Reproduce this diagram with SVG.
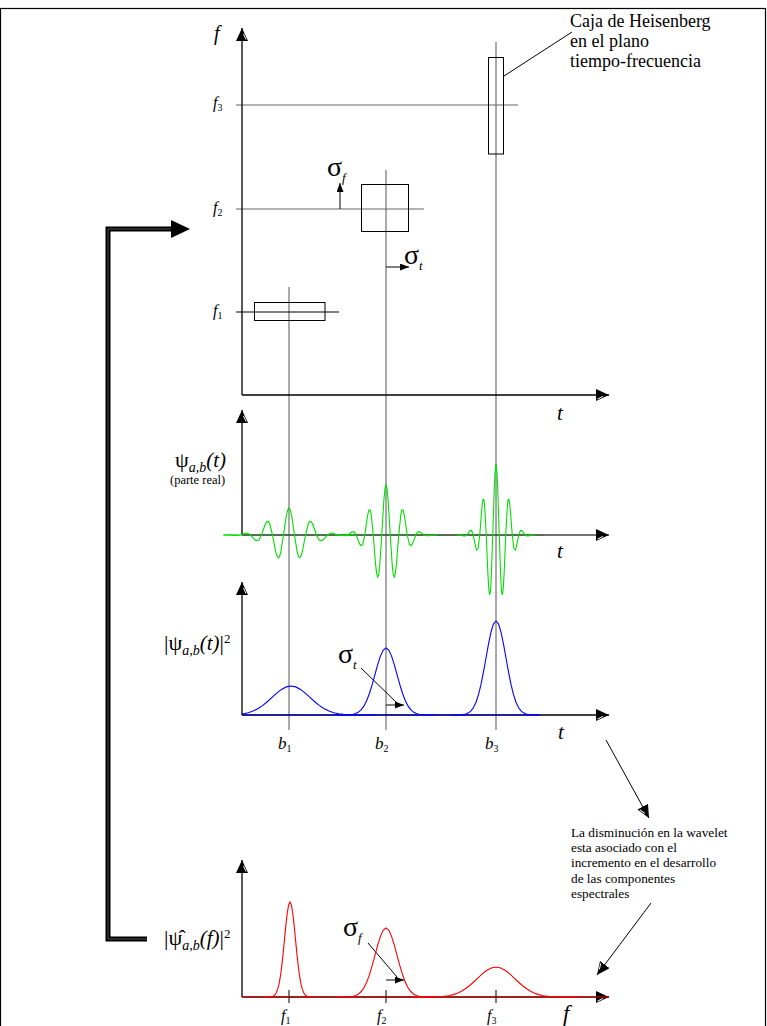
<svg xmlns="http://www.w3.org/2000/svg" xmlns:xlink="http://www.w3.org/1999/xlink" width="767" height="1026" viewBox="0 0 767 1026">
<style>
text{font-family:"Liberation Serif","Times New Roman",serif;fill:#000}
.it{font-style:italic}
.ax{stroke:#000;stroke-width:1.3;fill:none}
.gl{stroke:#666;stroke-width:1.2;fill:none}
.vl{stroke:#555;stroke-width:1;fill:none}
.bx{fill:none;stroke:#000;stroke-width:1}
.ld{stroke:#000;stroke-width:1;fill:none}
.grn{stroke:#00e000;stroke-width:1.1;fill:none}
.blu{stroke:#0000ff;stroke-width:1.1;fill:none}
.red{stroke:#ff0000;stroke-width:1.1;fill:none}
</style>
<defs>
<marker id="ah" markerUnits="userSpaceOnUse" markerWidth="14" markerHeight="12" refX="13" refY="6" orient="auto"><path d="M0,0 L13,6 L0,12 z" fill="#000"/><path d="M1.5,10 L7,7.5" stroke="#fff" stroke-width="1"/></marker>
<marker id="as" markerUnits="userSpaceOnUse" markerWidth="10" markerHeight="8" refX="9" refY="3.5" orient="auto"><path d="M0,0 L9,3.5 L0,7 z" fill="#000"/></marker>
<path id="G" vector-effect="non-scaling-stroke" d="M-4.5,0 L-4,-0.0003 L-3.5,-0.0022 L-3,-0.0111 L-2.75,-0.0228 L-2.5,-0.0439 L-2.25,-0.0796 L-2,-0.1353 L-1.75,-0.2163 L-1.5,-0.3247 L-1.25,-0.4578 L-1,-0.6065 L-0.75,-0.7548 L-0.5,-0.8825 L-0.25,-0.9692 L0,-1 L0.25,-0.9692 L0.5,-0.8825 L0.75,-0.7548 L1,-0.6065 L1.25,-0.4578 L1.5,-0.3247 L1.75,-0.2163 L2,-0.1353 L2.25,-0.0796 L2.5,-0.0439 L2.75,-0.0228 L3,-0.0111 L3.5,-0.0022 L4,-0.0003 L4.5,0"/>
<path id="W" vector-effect="non-scaling-stroke" d="M-3,-0.002 L-2.875,-0.0027 L-2.75,0 L-2.625,0.006 L-2.5,0.0132 L-2.375,0.0143 L-2.25,0 L-2.125,-0.031 L-2,-0.0628 L-1.875,-0.0621 L-1.75,0 L-1.625,0.1137 L-1.5,0.2108 L-1.375,0.1911 L-1.25,0 L-1.125,-0.2945 L-1.0625,-0.423 L-1,-0.5006 L-0.9375,-0.5029 L-0.875,-0.4163 L-0.75,0 L-0.625,0.5397 L-0.5625,0.7422 L-0.5,0.8411 L-0.4375,0.8092 L-0.375,0.6416 L-0.25,0 L-0.125,-0.6995 L-0.0625,-0.9214 L0,-1 L0.0625,-0.9214 L0.125,-0.6995 L0.25,0 L0.375,0.6416 L0.4375,0.8092 L0.5,0.8411 L0.5625,0.7422 L0.625,0.5397 L0.75,0 L0.875,-0.4163 L0.9375,-0.5029 L1,-0.5006 L1.0625,-0.423 L1.125,-0.2945 L1.25,0 L1.375,0.1911 L1.5,0.2108 L1.625,0.1137 L1.75,0 L1.875,-0.0621 L2,-0.0628 L2.125,-0.031 L2.25,0 L2.375,0.0143 L2.5,0.0132 L2.625,0.006 L2.75,0 L2.875,-0.0027 L3,-0.002"/>
<clipPath id="cb"><rect x="242" y="500" width="400" height="220"/></clipPath>
</defs>

<rect x="0.5" y="8.5" width="765" height="1030" fill="none" stroke="#000" stroke-width="1.2"/>

<g id="connectors">
  <line class="vl" x1="289" y1="287" x2="289" y2="730"/>
  <line class="vl" x1="386" y1="170" x2="386" y2="730"/>
  <line class="vl" x1="496" y1="42" x2="496" y2="730"/>
  <line class="gl" x1="236" y1="105" x2="518" y2="105"/>
  <line class="gl" x1="236" y1="209" x2="424" y2="209"/>
  <line class="ax" x1="236" y1="312" x2="339" y2="312" style="stroke-width:1.1"/>
  <line class="ld" x1="340" y1="209" x2="340" y2="183" marker-end="url(#as)"/>
  <line class="ld" x1="386" y1="267" x2="409" y2="267" marker-end="url(#as)"/>
  <line class="ld" x1="504" y1="76" x2="572" y2="32"/>
  <line class="ld" x1="361" y1="668" x2="397" y2="703"/>
  <line class="ld" x1="386" y1="705" x2="404" y2="705" marker-end="url(#as)"/>
  <line class="ld" x1="368" y1="943" x2="397" y2="977"/>
  <line class="ld" x1="386" y1="980" x2="404" y2="980" marker-end="url(#as)"/>
  <line class="ld" x1="606" y1="740" x2="649" y2="818" marker-end="url(#ah)"/>
  <line class="ld" x1="651" y1="903" x2="597" y2="975" marker-end="url(#ah)"/>
  <path d="M147,939 L108,939 L108,229 L175,229" fill="none" stroke="#000" stroke-width="5"/>
  <path d="M147,939 L108,939 L108,229 L175,229" fill="none" stroke="#666" stroke-width="0.8"/>
  <polygon points="171,220 190,229 171,238" fill="#000"/>
</g>

<g id="plot-tf">
  <line class="ax" x1="242" y1="395" x2="242" y2="28" marker-end="url(#ah)"/>
  <line class="ax" x1="242" y1="395" x2="609" y2="395" marker-end="url(#ah)"/>
  <text x="214" y="40" class="it" font-size="20">f</text>
  <text x="213" y="108" class="it" font-size="16">f<tspan font-size="10" font-style="normal" dy="3">3</tspan></text>
  <text x="213" y="213" class="it" font-size="16">f<tspan font-size="10" font-style="normal" dy="3">2</tspan></text>
  <text x="213" y="316" class="it" font-size="16">f<tspan font-size="10" font-style="normal" dy="3">1</tspan></text>
  <text x="557" y="420" class="it" font-size="21">t</text>
  <text x="327" y="176" font-size="28">σ<tspan class="it" font-size="13" dy="6">f</tspan></text>
  <text x="404" y="264" font-size="28">σ<tspan class="it" font-size="13" dy="6">t</tspan></text>
</g>
<g id="box-1"><rect class="bx" x="254.5" y="302.5" width="70.5" height="18"/></g>
<g id="box-2"><rect class="bx" x="361.5" y="184.5" width="47" height="47"/></g>
<g id="box-3"><rect class="bx" x="488.5" y="57.5" width="15" height="96.5"/></g>
<g id="heisenberg-label">
  <text x="570" y="27" font-size="18">Caja de Heisenberg</text>
  <text x="570" y="47" font-size="18">en el plano</text>
  <text x="570" y="67" font-size="18">tiempo-frecuencia</text>
</g>

<g id="plot-wavelet">
  <line class="grn" x1="224" y1="535" x2="545" y2="535"/>
  <line class="ax" x1="242" y1="535" x2="242" y2="410" marker-end="url(#ah)"/>
  <line class="ax" x1="242" y1="535" x2="609" y2="535" style="stroke:#444" marker-end="url(#ah)"/>
  <use xlink:href="#W" class="grn" transform="translate(289,535) scale(22,27)"/>
  <use xlink:href="#W" class="grn" transform="translate(386,535) scale(17,50)"/>
  <use xlink:href="#W" class="grn" transform="translate(496,535) scale(13,71)"/>
  <text x="175" y="467" font-size="22">ψ<tspan class="it" font-size="14" dy="5">a,b</tspan><tspan class="it" font-size="21" dy="-5">(t)</tspan></text>
  <text x="170" y="484" font-size="12.5">(parte real)</text>
  <text x="557" y="558" class="it" font-size="21">t</text>
</g>

<g id="plot-energy-t">
  <line class="ax" x1="242" y1="715" x2="242" y2="582" marker-end="url(#ah)"/>
  <line class="ax" x1="242" y1="715" x2="609" y2="715" marker-end="url(#ah)"/>
  <g clip-path="url(#cb)">
    <use xlink:href="#G" class="blu" transform="translate(291,715) scale(19,29)"/>
    <use xlink:href="#G" class="blu" transform="translate(386,715) scale(11,67)"/>
    <use xlink:href="#G" class="blu" transform="translate(496,715) scale(10,94)"/>
    <line class="blu" x1="242" y1="715" x2="540" y2="715"/>
  </g>
  <text x="164" y="650" font-size="22">|ψ<tspan class="it" font-size="14" dy="5">a,b</tspan><tspan class="it" font-size="21" dy="-5">(t)</tspan>|<tspan font-size="13" dy="-7">2</tspan></text>
  <text x="338" y="663" font-size="28">σ<tspan class="it" font-size="13" dy="6">t</tspan></text>
  <text x="278" y="749" class="it" font-size="17">b<tspan font-size="10" font-style="normal" dy="3">1</tspan></text>
  <text x="375" y="749" class="it" font-size="17">b<tspan font-size="10" font-style="normal" dy="3">2</tspan></text>
  <text x="485" y="749" class="it" font-size="17">b<tspan font-size="10" font-style="normal" dy="3">3</tspan></text>
  <text x="558" y="739" class="it" font-size="21">t</text>
</g>

<g id="note">
  <text x="571" y="837" font-size="13.3">La disminución en la wavelet</text>
  <text x="571" y="852" font-size="13.3">esta asociado con el</text>
  <text x="571" y="867" font-size="13.3">incremento en el desarrollo</text>
  <text x="571" y="883" font-size="13.3">de las componentes</text>
  <text x="571" y="898" font-size="13.3">espectrales</text>
</g>

<g id="plot-spectrum">
  <line class="ax" x1="242" y1="997" x2="242" y2="860" marker-end="url(#ah)"/>
  <line class="ax" x1="242" y1="997" x2="609" y2="997" marker-end="url(#ah)"/>
  <line class="ax" x1="289" y1="990" x2="289" y2="1003" style="stroke-width:1"/>
  <line class="ax" x1="386" y1="990" x2="386" y2="1003" style="stroke-width:1"/>
  <line class="ax" x1="496" y1="990" x2="496" y2="1003" style="stroke-width:1"/>
  <line class="red" x1="242" y1="997" x2="609" y2="997"/>
  <use xlink:href="#G" class="red" transform="translate(290,997) scale(5.5,95)"/>
  <use xlink:href="#G" class="red" transform="translate(386,997) scale(11,69)"/>
  <use xlink:href="#G" class="red" transform="translate(496,997) scale(19,30)"/>
  <text x="164" y="945" font-size="22">|ψ̂<tspan class="it" font-size="14" dy="5">a,b</tspan><tspan class="it" font-size="21" dy="-5">(f)</tspan>|<tspan font-size="13" dy="-7">2</tspan></text>
  <text x="343" y="936" font-size="28">σ<tspan class="it" font-size="13" dy="6">f</tspan></text>
  <text x="281" y="1021" class="it" font-size="16">f<tspan font-size="10" font-style="normal" dy="3">1</tspan></text>
  <text x="377" y="1021" class="it" font-size="16">f<tspan font-size="10" font-style="normal" dy="3">2</tspan></text>
  <text x="487" y="1021" class="it" font-size="16">f<tspan font-size="10" font-style="normal" dy="3">3</tspan></text>
  <text x="563" y="1021" class="it" font-size="23">f</text>
</g>
</svg>
